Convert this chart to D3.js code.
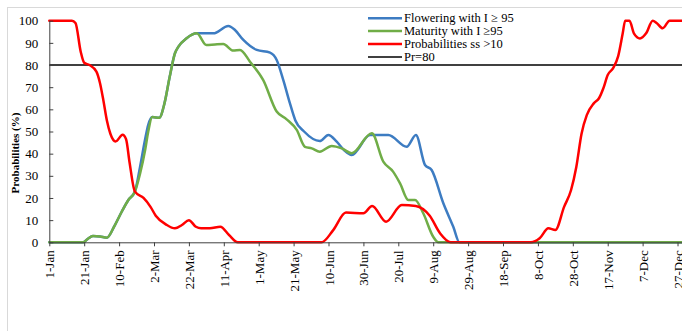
<!DOCTYPE html>
<html>
<head>
<meta charset="utf-8">
<script src="https://cdn.jsdelivr.net/npm/d3@7"></script>
<style>
  html, body { margin: 0; padding: 0; background: #fff; }
  svg { display: block; }
  text { font-family: "Liberation Serif", "Times New Roman", serif; }
</style>
</head>
<body>
<svg id="chart" width="682" height="331"></svg>
<script>
// ---- data (day of year, probability %) ----
const tickDays = [1, 21, 41, 61, 81, 101, 121, 141, 161, 181, 201, 221, 241, 261, 281, 301, 321, 341, 361];
const tickLabels = ["1-Jan", "21-Jan", "10-Feb", "2-Mar", "22-Mar", "11-Apr", "1-May", "21-May", "10-Jun", "30-Jun",
  "20-Jul", "9-Aug", "29-Aug", "18-Sep", "8-Oct", "28-Oct", "17-Nov", "7-Dec", "27-Dec"];
const yTicks = [0, 10, 20, 30, 40, 50, 60, 70, 80, 90, 100];

const floweringDays = [1, 20.5, 23, 26, 30, 34, 38.6, 42.5, 46.3, 50, 53, 55.8, 57.7, 60, 64, 67, 70, 73, 75, 79.7, 85.5,
  95, 103.6, 107.4, 112.2, 119.9, 127.5, 131.3, 135.1, 138.9, 142, 147, 156, 160.9, 165.7, 170, 174.3, 184.8, 195.3,
  205.8, 211.1, 216.3, 220.1, 226.8, 232.5, 236, 365];
const floweringVals = [0, 0, 1.5, 2.8, 2.6, 2.1, 7.8, 13.8, 19.1, 22.8, 34, 46, 53, 56.5, 56.2, 62.7, 74.7, 85.3, 88.3, 92.1, 94.3,
  94.3, 97.6, 95.8, 91.3, 86.8, 85.6, 82.3, 73.2, 62.7, 55, 50, 45.7, 48.4, 45.4, 41.5, 39.4, 48.4, 48.4,
  43.1, 48.4, 34.9, 32.6, 17.6, 7, 0, 0];

const maturityDays = [1, 20.5, 23, 26, 30, 34, 38.6, 42.5, 46.3, 50, 53, 56, 57.7, 60, 64, 67, 70, 73, 75, 79.7, 85.5,
  91, 96, 100.7, 106.4, 110.3, 116, 123.6, 131.3, 137, 142.8, 147.5, 151.4, 156, 162.8, 168.6, 174.3, 185.8, 192.4,
  198, 202, 206.7, 210.6, 215.3, 221, 224, 365];
const maturityVals = [0, 0, 1.5, 2.8, 2.6, 2.1, 7.8, 13.8, 19.1, 22.8, 31, 42, 50, 56.5, 56.2, 62.7, 74.7, 85.3, 88.3, 92.1, 94.3,
  89, 89.3, 89.5, 86.5, 86.8, 81.5, 73.2, 59, 55.5, 50.7, 43.1, 42.4, 40.9, 43.5, 42.4, 40.2, 49.2, 36.4,
  31.9, 26.6, 19.1, 19.1, 13.1, 2.5, 0, 0];

const ssDays = [1, 14, 16, 19, 21, 24, 28, 30, 32, 34, 36, 39, 43, 45, 47, 50, 55, 59, 62, 68, 73, 77, 81, 85, 88, 93, 99,
  104, 109, 157, 163.7, 171, 181, 186, 194, 203, 211, 219, 225, 231, 277, 282, 287, 291, 296, 300, 303, 306, 309,
  313, 316, 318.5, 321, 324, 327, 329.6, 331, 333.5, 336, 339.5, 343, 346.8, 349, 352.5, 356.5, 365];
const ssVals = [100, 100, 99, 86, 81, 80, 77, 72, 64, 55, 49, 45.5, 48.5, 46.5, 36, 23, 20, 16, 12, 8, 6.3, 7.8, 10, 7, 6.3, 6.3, 7,
  3.3, 0, 0, 5.5, 13.4, 13.1, 16.4, 9.3, 16.8, 16.4, 12, 4, 0, 0, 1.8, 6.3, 5.6, 16, 23.6, 34, 49, 57.4,
  62.7, 65, 69.5, 75.5, 78.5, 84, 94.3, 100, 100, 94.3, 92, 94.3, 100, 99, 96.6, 100, 100];

const threshold = 80;
const seriesNames = ["Flowering with I \u2265 95", "Maturity with I \u226595", "Probabilities ss >10", "Pr=80"];
const seriesColors = ["#3d7cc2", "#70ad47", "#ff0000", "#000000"];
const yTitle = "Probabilities (%)";

// ---- drawing ----
const svg = d3.select("#chart");
svg.append("rect").attr("x", 7.5).attr("y", 7.5).attr("width", 700).attr("height", 400)
  .attr("fill", "#fff").attr("stroke", "#d9d9d9").attr("stroke-width", 1);

const x = d3.scaleLinear().domain([1, 365]).range([49.3, 684.5]);
const y = d3.scaleLinear().domain([0, 100]).range([242.3, 20.7]);

// threshold line
svg.append("line")
  .attr("x1", x(1)).attr("x2", 682)
  .attr("y1", y(threshold)).attr("y2", y(threshold))
  .attr("stroke", seriesColors[3]).attr("stroke-width", 1.3);

const line = d3.line().x(d => x(d[0])).y(d => y(d[1])).curve(d3.curveMonotoneX);
const series = [
  [floweringDays, floweringVals, seriesColors[0]],
  [maturityDays, maturityVals, seriesColors[1]],
  [ssDays, ssVals, seriesColors[2]]
];
series.forEach(([days, vals, col]) => {
  svg.append("path")
    .datum(days.map((d, i) => [d, vals[i]]))
    .attr("d", line)
    .attr("fill", "none")
    .attr("stroke", col)
    .attr("stroke-width", 2.5)
    .attr("stroke-linejoin", "round")
    .attr("stroke-linecap", "round");
});

// x axis
const xAxis = svg.append("g").attr("transform", `translate(0,${y(0)})`)
  .call(d3.axisBottom(x).tickValues(tickDays).tickFormat((d, i) => tickLabels[i]).tickSize(4).tickSizeOuter(0));
xAxis.select(".domain").attr("stroke", "#404040");
xAxis.selectAll(".tick line").attr("stroke", "#404040");
xAxis.selectAll(".tick text")
  .attr("transform", "rotate(-90)")
  .attr("x", -8).attr("y", 0).attr("dy", "0.35em")
  .attr("text-anchor", "end")
  .attr("font-size", 13)
  .attr("font-family", "Liberation Serif")
  .attr("fill", "#000");

// y axis
const yAxis = svg.append("g").attr("transform", `translate(${x(1)},0)`)
  .call(d3.axisLeft(y).tickValues(yTicks).tickSize(-4).tickSizeOuter(0).tickPadding(11));
yAxis.select(".domain").attr("stroke", "#404040");
yAxis.selectAll(".tick line").attr("stroke", "#404040");
yAxis.selectAll(".tick text")
  .attr("font-size", 13)
  .attr("font-family", "Liberation Serif")
  .attr("fill", "#000");

svg.append("text")
  .attr("transform", "translate(19,153) rotate(-90)")
  .attr("text-anchor", "middle")
  .attr("font-size", 11)
  .attr("font-weight", "bold")
  .attr("fill", "#000")
  .text(yTitle);

// legend
const legendY = [18.3, 31, 44, 57];
seriesNames.forEach((name, i) => {
  const g = svg.append("g");
  g.append("line").attr("x1", 368).attr("x2", 402)
    .attr("y1", legendY[i]).attr("y2", legendY[i])
    .attr("stroke", seriesColors[i]).attr("stroke-width", i === 3 ? 1.3 : 2.5);
  g.append("text").attr("x", 404).attr("y", legendY[i]).attr("dy", "0.33em")
    .attr("font-size", 12.5).attr("fill", "#000").text(name);
});
</script>
</body>
</html>
